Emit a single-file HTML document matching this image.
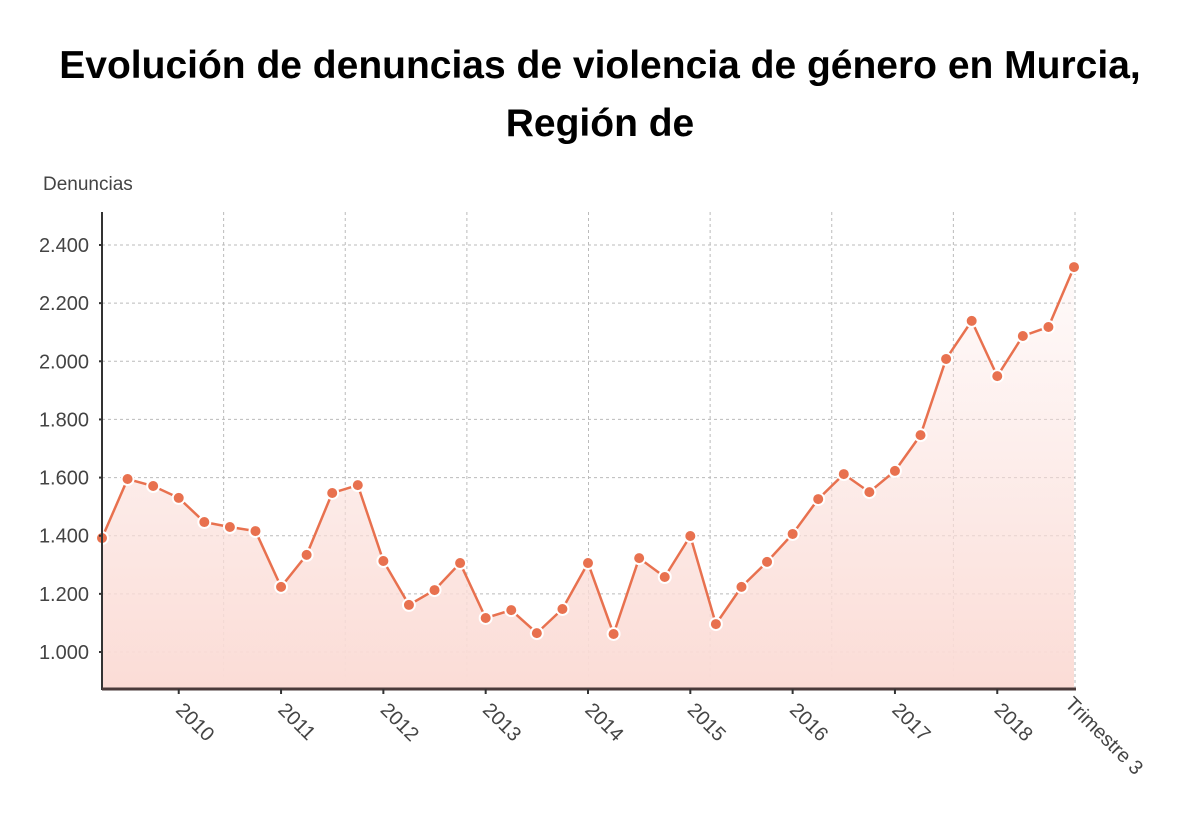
<!DOCTYPE html>
<html><head><meta charset="utf-8"><style>
body{margin:0;background:#fff;width:1200px;height:809px;overflow:hidden;font-family:"Liberation Sans",sans-serif}
</style></head><body>
<svg width="1200" height="809">
<defs><linearGradient id="g" x1="0" y1="0" x2="0" y2="1"><stop offset="0" stop-color="#fbe0dc" stop-opacity="0.15"/><stop offset="1" stop-color="#fbdcd6"/></linearGradient>
<clipPath id="cp"><rect x="0" y="0" width="1145" height="809"/></clipPath></defs>
<text x="600" y="78" text-anchor="middle" font-size="39" font-weight="bold" fill="#000">Evolución de denuncias de violencia de género en Murcia,</text>
<text x="600" y="136" text-anchor="middle" font-size="39" font-weight="bold" fill="#000">Región de</text>
<text x="43" y="190" font-size="19" fill="#444">Denuncias</text>
<g id="grid"></g><g id="plot"></g><g id="axes" clip-path="url(#cp)"></g>
</svg>
<script>
const values=[1392,1595,1571,1530,1447,1430,1416,1224,1334,1547,1574,1313,1162,1213,1306,1117,1144,1065,1148,1306,1062,1323,1258,1399,1096,1224,1310,1406,1526,1612,1550,1623,1746,2008,2139,1949,2087,2118,2324];
const yTicks=[1000,1200,1400,1600,1800,2000,2200,2400];
const yearLabels=["2010","2011","2012","2013","2014","2015","2016","2017","2018"];
const lastLabel="Trimestre 3";
const NS="http://www.w3.org/2000/svg";
const X0=102,X1=1074,YB=689,YT=212;
const x=i=>X0+(X1-X0)*i/(values.length-1);
const y=v=>652-(v-1000)*(652-245)/1400;
function mk(t,a,p){const e=document.createElementNS(NS,t);for(const k in a)e.setAttribute(k,a[k]);p.appendChild(e);return e;}
const grid=document.getElementById('grid'),plot=document.getElementById('plot'),axes=document.getElementById('axes');
yTicks.forEach(v=>{
 const l=mk('line',{x1:X0,x2:1075,y1:y(v),y2:y(v),stroke:'#bbb','stroke-dasharray':'3,3'},grid);
 
 
 const t=mk('text',{x:89,y:y(v)+7,'text-anchor':'end','font-size':20,fill:'#444'},axes);
 t.textContent=v.toLocaleString('de-DE');
 
 
 mk('line',{x1:99,x2:103,y1:y(v),y2:y(v),stroke:'#333','stroke-width':2},axes);
});
for(let k=1;k<=8;k++){
 const gx=X0+(1075-X0)*k/8;
 const l=mk('line',{x1:gx,x2:gx,y1:YT,y2:YB,stroke:'#bbb','stroke-dasharray':'3,3'},grid);
 
 
}
let d='M'+x(0)+','+YB;values.forEach((v,i)=>d+=' L'+x(i)+','+y(v));d+=' L'+x(values.length-1)+','+YB+'Z';
const area=mk('path',{d:d,fill:'url(#g)'},plot);


const line=mk('polyline',{points:values.map((v,i)=>x(i)+','+y(v)).join(' '),fill:'none',stroke:'#e8714f','stroke-width':2.5},plot);


values.forEach((v,i)=>{
 const c=mk('circle',{cx:x(i),cy:y(v),r:6,fill:'#e8714f',stroke:'#fff','stroke-width':2},plot);
 
 
});
mk('line',{x1:X0,x2:X0,y1:YT,y2:YB+1,stroke:'#333','stroke-width':2},axes);
mk('line',{x1:X0,x2:1076,y1:YB,y2:YB,stroke:'#4a3a3a','stroke-width':3},axes);
yearLabels.forEach((lab,k)=>{
 const tx=x(3+4*k);
 mk('line',{x1:tx,x2:tx,y1:YB,y2:YB+5,stroke:'#333','stroke-width':2},axes);
 const t=mk('text',{x:tx-4,y:YB+22,'font-size':20,fill:'#444',transform:`rotate(45 ${tx-4} ${YB+22})`},axes);
 t.textContent=lab;
 
 
});
const lx=x(values.length-1);
const t=mk('text',{x:lx-10,y:YB+16,'font-size':20,fill:'#444',transform:`rotate(45 ${lx-10} ${YB+16})`},axes);
t.textContent=lastLabel;


</script>
</body></html>
